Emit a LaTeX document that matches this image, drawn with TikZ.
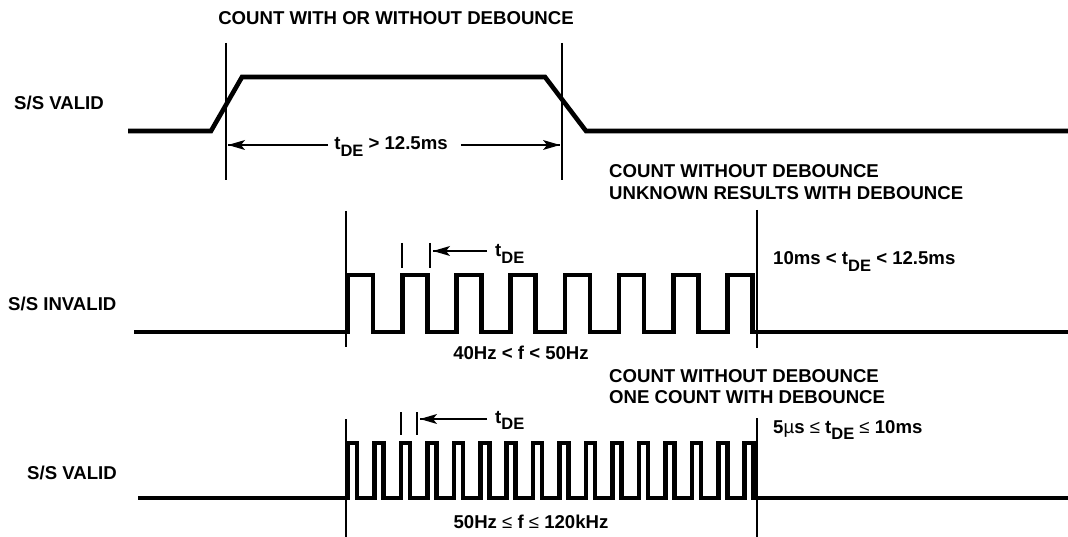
\documentclass[tikz,border=0pt]{standalone}
\usepackage{fontspec}
\setmainfont{Liberation Sans}
\usetikzlibrary{positioning}
\newcommand{\tDE}{t\raisebox{-0.65ex}{\fontsize{16.5}{18}\selectfont DE}}

\begin{document}
\begin{tikzpicture}[x=1pt,y=1pt]
        \tikzstyle{every node}+=[inner sep=0pt, font=\fontsize{18.6}{21}\selectfont\bfseries]
        \tikzstyle{trace}=[line width=4.6pt]
        \tikzstyle{guide}=[line width=1.1pt]
        \tikzstyle{dim}=[line width=1.4pt]
        \useasboundingbox (0,0) rectangle (1068,-537);
        % S/S valid, slow edges
        \node [anchor=base] (headA) at (396,-25) {COUNT WITH OR WITHOUT DEBOUNCE};
        \node [anchor=base west] (sigA) at (14,-110) {S/S VALID};
        \draw [trace] (128,-131) -- (211,-131) -- (242,-77) -- (545,-77) -- (586,-131) -- (1068,-131);
        \draw [guide] (226,-43) -- (226,-180);
        \draw [guide] (562,-43) -- (562,-180);
        \coordinate (tipAl) at (228,-145);
        \coordinate (tipAr) at (560,-145);
        \node [anchor=base] (tdeA) at (391,-150) {\tDE\ > 12.5ms};
        \draw [dim] (tdeA.west |- tipAl) ++(-6,0) -- (tipAl);
        \draw [dim] (tdeA.east |- tipAr) ++(13,0) -- (tipAr);
        \fill (tipAl) -- ++(17,5) -- ++(-4,-5) -- ++(4,-5) -- cycle;
        \fill (tipAr) -- ++(-17,5) -- ++(4,-5) -- ++(-4,-5) -- cycle;
        % S/S invalid, 40 to 50 Hz
        \node [anchor=base west] (headB) at (609,-178) {COUNT WITHOUT DEBOUNCE};
        \node [anchor=base west] (headBb) at (609,-200) {UNKNOWN RESULTS WITH DEBOUNCE};
        \node [anchor=base west] (sigB) at (8,-310) {S/S INVALID};
        \draw [trace] (134,-332) foreach \k in {0,...,7} { -- ({348+54.2*\k},-332) -- ++(0,57) -- ++(25,0) -- ++(0,-57) } -- (1068,-332);
        \draw [guide] (346,-211) -- (346,-347);
        \draw [guide] (757,-210) -- (757,-348);
        \draw [guide] (402,-243) -- (402,-268);
        \draw [guide] (430,-243) -- (430,-268);
        \coordinate (tipB) at (433,-251);
        \node [anchor=base west] (tdeB) at (495,-257) {\tDE};
        \draw [dim] (tdeB.west |- tipB) ++(-8,0) -- (tipB);
        \fill (tipB) -- ++(17,5) -- ++(-4,-5) -- ++(4,-5) -- cycle;
        \node [anchor=base] (freqB) at (521,-359) {40Hz < f < 50Hz};
        \node [anchor=base west] (rangeB) at (773,-265) {10ms < \tDE\ < 12.5ms};
        % S/S valid, 50 Hz to 120 kHz
        \node [anchor=base west] (headC) at (609,-382) {COUNT WITHOUT DEBOUNCE};
        \node [anchor=base west] (headCb) at (609,-403) {ONE COUNT WITH DEBOUNCE};
        \node [anchor=base west] (sigC) at (27,-479) {S/S VALID};
        \draw [trace] (138,-498) foreach \k in {0,...,15} { -- ({348+26.45*\k},-498) -- ++(0,55) -- ++(9,0) -- ++(0,-55) } -- (1068,-498);
        \draw [guide] (346,-419) -- (346,-537);
        \draw [guide] (757,-418) -- (757,-537);
        \draw [guide] (401,-412) -- (401,-435);
        \draw [guide] (417,-412) -- (417,-435);
        \coordinate (tipC) at (420,-419);
        \node [anchor=base west] (tdeC) at (495,-423) {\tDE};
        \draw [dim] (tdeC.west |- tipC) ++(-8,0) -- (tipC);
        \fill (tipC) -- ++(17,5) -- ++(-4,-5) -- ++(4,-5) -- cycle;
        \node [anchor=base] (freqC) at (531,-528) {50Hz {\mdseries ≤} f {\mdseries ≤} 120kHz};
        \node [anchor=base west] (rangeC) at (773,-433) {5{\mdseries µ}s {\mdseries ≤} \tDE\ {\mdseries ≤} 10ms};
\end{tikzpicture}
\end{document}
